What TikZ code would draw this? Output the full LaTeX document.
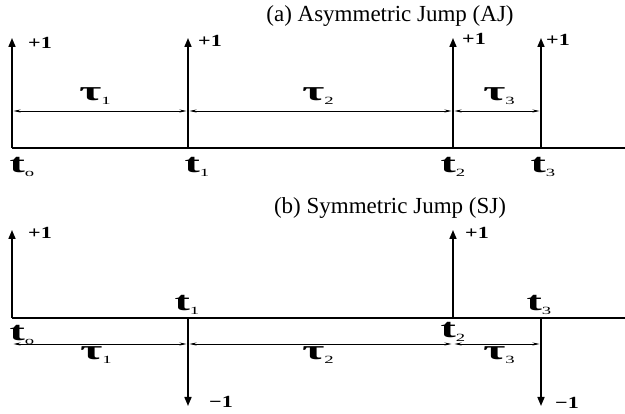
\documentclass[tikz,border=0pt]{standalone}
\usepackage{bm}
\usepackage{graphicx}
\usepackage{fontspec}
\setmainfont{Liberation Serif}
\usepackage{tikz}
\usetikzlibrary{arrows.meta, positioning}

\newcommand{\tm}[1]{\scalebox{1.7}[1]{\textbf{t}\raisebox{-0.3ex}{\fontsize{11}{12}\selectfont #1}}}
\newcommand{\tu}[1]{\scalebox{1.7}[1]{\textbf{τ}\raisebox{-0.3ex}{\fontsize{11}{12}\selectfont #1}}}
\newcommand{\vv}[1]{\scalebox{1.3}[1]{#1}}

\tikzset{
  axis/.style={line width=1.6pt},
  spike/.style={line width=1.6pt, -{Triangle[length=9pt, width=7pt]}},
  span/.style={line width=0.7pt, {Stealth[length=7pt, width=3pt]}-{Stealth[length=7pt, width=3pt]}, shorten <=1.5pt, shorten >=1.5pt},
  tlab/.style={font=\fontsize{27}{30}\selectfont, inner sep=0pt},
  taulab/.style={font=\fontsize{28}{32}\selectfont, inner sep=0pt},
  vlab/.style={font=\fontsize{17}{20}\selectfont\bfseries, inner sep=0pt},
  title/.style={font=\fontsize{23}{27}\selectfont, inner sep=0pt}
}

\begin{document}
\begin{tikzpicture}[x=1pt, y=-1pt]
        \useasboundingbox (0,0) rectangle (625,414);

        % (a) asymmetric jump
        \node[title] (ta) at (390,16) {(a) Asymmetric Jump (AJ)};
        \coordinate (a0) at (12,148);
        \coordinate (a1) at (188,148);
        \coordinate (a2) at (453,148);
        \coordinate (a3) at (541,148);
        \coordinate (aend) at (625,148);
        \coordinate (a0u) at (12,38);
        \coordinate (a1u) at (188,38);
        \coordinate (a2u) at (453,38);
        \coordinate (a3u) at (541,38);
        \coordinate (s0) at (12,111);
        \coordinate (s1) at (188,111);
        \coordinate (s2) at (453,111);
        \coordinate (s3) at (541,111);

        \draw[axis] (a0) -- (aend);
        \draw[spike] (a0) -- (a0u);
        \draw[spike] (a1) -- (a1u);
        \draw[spike] (a2) -- (a2u);
        \draw[spike] (a3) -- (a3u);
        \draw[span] (s0) -- (s1);
        \draw[span] (s1) -- (s2);
        \draw[span] (s2) -- (s3);

        \node[vlab] (pa0) at (40,43) {\vv{+1}};
        \node[vlab] (pa1) at (210,41) {\vv{+1}};
        \node[vlab] (pa2) at (474,39) {\vv{+1}};
        \node[vlab] (pa3) at (558,40) {\vv{+1}};

        \node[taulab] (ua1) at (95,96) {\tu{1}};
        \node[taulab] (ua2) at (318,96) {\tu{2}};
        \node[taulab] (ua3) at (499,96) {\tu{3}};

        \node[tlab] (la0) at (22,167) {\tm{o}};
        \node[tlab] (la1) at (197,167) {\tm{1}};
        \node[tlab] (la2) at (453,167) {\tm{2}};
        \node[tlab] (la3) at (543,167) {\tm{3}};

        % (b) symmetric jump
        \node[title] (tb) at (390,208) {(b) Symmetric Jump (SJ)};
        \coordinate (b0) at (12,318);
        \coordinate (b1) at (188,318);
        \coordinate (b2) at (453,318);
        \coordinate (b3) at (541,318);
        \coordinate (bend) at (625,318);
        \coordinate (b0u) at (12,230);
        \coordinate (b1d) at (188,406);
        \coordinate (b2u) at (453,230);
        \coordinate (b3d) at (541,406);
        \coordinate (r0) at (12,344);
        \coordinate (r1) at (188,344);
        \coordinate (r2) at (453,344);
        \coordinate (r3) at (541,344);

        \draw[axis] (b0) -- (bend);
        \draw[spike] (b0) -- (b0u);
        \draw[spike] (b1) -- (b1d);
        \draw[spike] (b2) -- (b2u);
        \draw[spike] (b3) -- (b3d);
        \draw[span] (r0) -- (r1);
        \draw[span] (r1) -- (r2);
        \draw[span] (r2) -- (r3);

        \node[vlab] (pb0) at (40,233) {\vv{+1}};
        \node[vlab] (mb1) at (221,402) {\vv{−1}};
        \node[vlab] (pb2) at (477,233) {\vv{+1}};
        \node[vlab] (mb3) at (567,403) {\vv{−1}};

        \node[taulab] (ub1) at (96,355) {\tu{1}};
        \node[taulab] (ub2) at (318,355) {\tu{2}};
        \node[taulab] (ub3) at (499,355) {\tu{3}};

        \node[tlab] (lb0) at (22,335) {\tm{o}};
        \node[tlab] (lb1) at (187,305) {\tm{1}};
        \node[tlab] (lb2) at (453,332) {\tm{2}};
        \node[tlab] (lb3) at (539,305) {\tm{3}};
\end{tikzpicture}
\end{document}
